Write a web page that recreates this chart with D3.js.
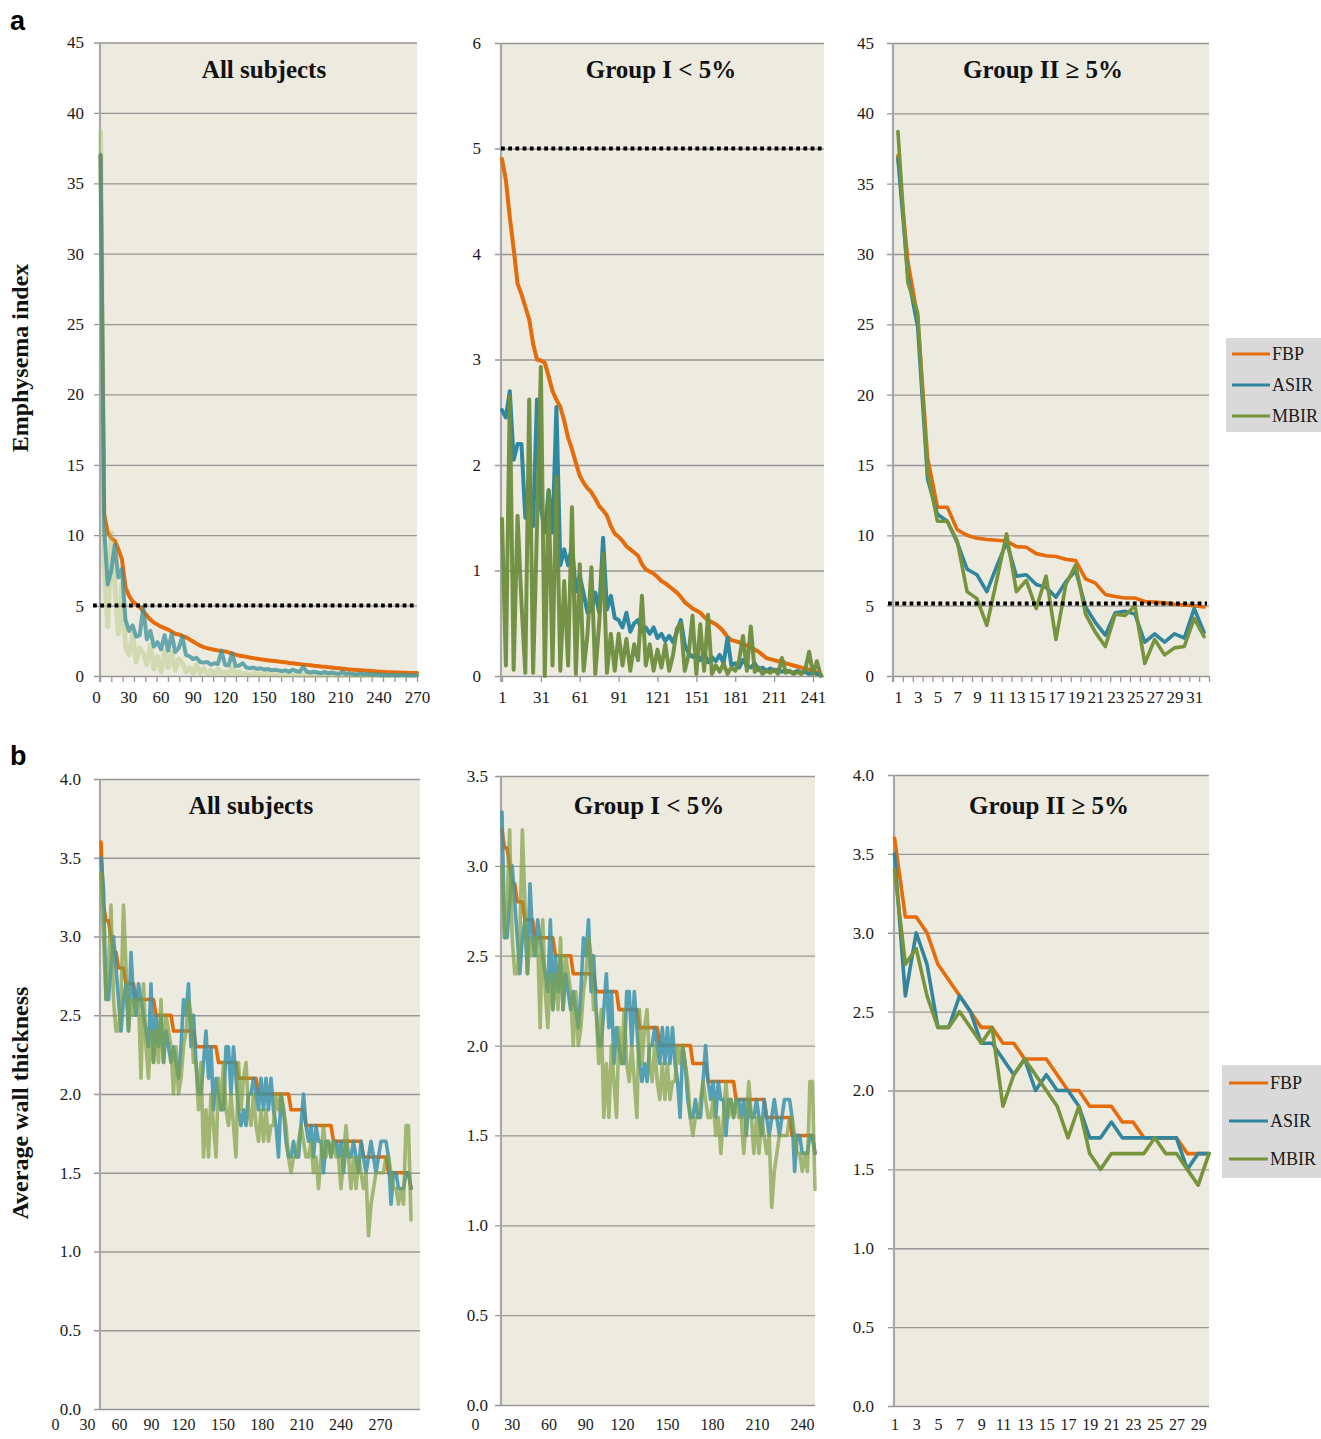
<!DOCTYPE html>
<html><head><meta charset="utf-8">
<script src="https://cdn.jsdelivr.net/npm/d3@7"></script>
<style>body{margin:0;background:#fff}</style>
</head><body>
<svg id="c" width="1321" height="1439"></svg>
<script>
// ---------- DATA ----------
const seriesNames = ["FBP", "ASIR", "MBIR"];

// (a) Emphysema index – All subjects (every 3rd subject, sorted by FBP)
const emphAllFBP = [37,11.5,10.2,9.8,9.6,9.0,8.3,6.3,5.7,5.3,
5.1,4.9,4.6,4.3,4.0,3.8,3.65,3.5,3.4,3.3,
3.15,3.0,2.95,2.85,2.75,2.6,2.45,2.3,2.15,2.05,
1.98,1.92,1.87,1.82,1.78,1.75,1.68,1.6,1.52,1.45,
1.41,1.36,1.31,1.27,1.23,1.19,1.15,1.12,1.09,1.06,
1.03,1.0,0.97,0.93,0.9,0.87,0.84,0.81,0.79,0.76,
0.73,0.71,0.68,0.66,0.63,0.6,0.57,0.55,0.52,0.49,
0.47,0.44,0.43,0.41,0.39,0.37,0.35,0.33,0.31,0.3,
0.28,0.27,0.26,0.25,0.24,0.23,0.23,0.22,0.22,0.21];
const emphAllASIR = [37,10.5,6.5,7.5,9.3,7.0,7.6,4.0,3.2,3.6,
2.8,2.9,4.9,2.6,3.2,2.1,2.4,1.9,2.9,1.8,
3.0,1.7,2.0,2.8,1.5,1.4,1.2,1.3,1.0,0.95,
1.0,0.8,0.9,0.85,1.8,0.8,0.75,1.6,0.7,0.75,
0.9,0.6,0.55,0.6,0.5,0.55,0.45,0.5,0.4,0.45,
0.4,0.35,0.4,0.3,0.45,0.35,0.3,0.65,0.3,0.25,
0.3,0.25,0.2,0.3,0.2,0.25,0.2,0.15,0.3,0.15,
0.2,0.15,0.1,0.2,0.1,0.15,0.1,0.1,0.15,0.05,
0.1,0.05,0.1,0.05,0.05,0.1,0.05,0.05,0.05,0.05];
const emphAllMBIR = [38.7,8.0,3.5,10.2,6.5,3.0,6.5,2.0,1.5,3.0,
1.0,2.0,1.6,0.8,2.2,0.5,1.4,0.3,1.8,0.6,
1.7,0.4,1.2,0.9,0.3,0.6,0.2,0.8,0.2,0.5,
0.15,0.4,0.1,0.5,0.2,0.3,0.1,0.6,0.1,0.3,
0.1,0.2,0.05,0.2,0.1,0.15,0.05,0.15,0.05,0.1,
0.05,0.12,0.03,0.1,0.05,0.08,0.02,0.1,0.04,0.06,
0.02,0.08,0.03,0.05,0.02,0.1,0.03,0.04,0.02,0.06,
0.02,0.03,0.05,0.02,0.04,0.02,0.03,0.05,0.02,0.03,
0.02,0.04,0.02,0.03,0.02,0.02,0.03,0.02,0.02,0.03];

// (a) Group I < 5% (subjects 1,4,7,...,247)
const emphG1FBP = [4.9,4.7,4.35,4.05,3.72,3.62,3.5,3.38,3.15,3.0,
2.99,2.97,2.84,2.7,2.62,2.55,2.42,2.26,2.15,2.02,
1.9,1.83,1.78,1.74,1.68,1.61,1.57,1.52,1.42,1.35,
1.32,1.28,1.23,1.2,1.17,1.14,1.06,1.01,0.99,0.97,
0.94,0.9,0.88,0.85,0.82,0.79,0.75,0.7,0.67,0.64,
0.62,0.6,0.56,0.53,0.51,0.49,0.46,0.42,0.37,0.34,
0.33,0.32,0.3,0.29,0.27,0.25,0.23,0.2,0.17,0.16,
0.15,0.14,0.14,0.12,0.11,0.1,0.09,0.08,0.07,0.06,
0.05,0.03,0.01];
const emphG1ASIR = [2.52,2.45,2.7,2.05,2.2,2.2,1.5,1.85,1.42,2.62,
1.6,1.36,1.76,1.36,2.55,1.05,1.2,1.05,1.23,0.8,
0.95,0.78,0.6,0.62,0.79,0.6,1.31,0.63,0.76,0.55,
0.53,0.46,0.6,0.42,0.5,0.53,0.42,0.46,0.4,0.46,
0.36,0.4,0.33,0.38,0.32,0.42,0.53,0.3,0.22,0.18,
0.2,0.15,0.22,0.13,0.18,0.14,0.2,0.12,0.36,0.1,
0.12,0.08,0.15,0.1,0.08,0.12,0.06,0.08,0.05,0.07,
0.05,0.06,0.04,0.05,0.04,0.03,0.05,0.03,0.04,0.02,
0.03,0.02,0.01];
const emphG1MBIR = [1.49,0.1,2.65,0.06,1.52,0.7,0.03,2.62,0.03,1.4,
2.93,0.0,1.76,0.1,1.89,0.05,0.9,0.1,1.6,0.02,
1.06,0.05,0.4,1.03,0.02,0.5,1.16,0.03,0.4,0.05,
0.4,0.1,0.35,0.05,0.3,0.15,0.76,0.1,0.3,0.05,
0.25,0.08,0.3,0.05,0.2,0.45,0.5,0.05,0.2,0.57,
0.02,0.49,0.05,0.58,0.02,0.1,0.04,0.12,0.02,0.08,
0.05,0.15,0.38,0.05,0.47,0.04,0.08,0.02,0.05,0.03,
0.06,0.02,0.17,0.03,0.05,0.02,0.04,0.02,0.06,0.23,
0.02,0.14,0.0];

// (a) Group II >= 5% (subjects 1..32)
const emphG2FBP = [37,29.5,25.5,15.5,12,12,10.4,10.0,9.8,9.7,
9.65,9.6,9.2,9.15,8.7,8.55,8.5,8.3,8.2,6.9,
6.6,5.8,5.65,5.55,5.55,5.3,5.25,5.2,5.1,5.05,5.0,4.9];
const emphG2ASIR = [36.8,28.5,24.8,14,11.5,11,9.5,7.6,7.2,6.0,
7.8,9.5,7.1,7.2,6.5,6.3,5.6,6.7,7.5,4.9,
3.8,2.9,4.5,4.6,4.4,2.4,3.0,2.4,3.0,2.7,4.8,3.1];
const emphG2MBIR = [38.7,28.0,25.8,14.5,11.0,11.0,9.6,6.0,5.5,3.6,
6.8,10.1,6.0,6.8,4.8,7.1,2.6,6.5,7.9,4.4,
3.1,2.1,4.4,4.3,5.0,0.9,2.6,1.5,2.0,2.1,4.1,2.8];

// (b) Average wall thickness – All subjects / Group I
const wallAllFBP = [3.6,3.2,3.1,3.1,3.0,2.9,2.9,2.8,2.8,2.8,2.7,2.7,2.7,2.7,
2.6,2.6,2.6,2.6,2.6,2.6,2.6,2.6,
2.5,2.5,2.5,2.5,2.5,2.5,2.5,
2.4,2.4,2.4,2.4,2.4,2.4,2.4,2.4,2.4,
2.3,2.3,2.3,2.3,2.3,2.3,2.3,2.3,2.3,
2.2,2.2,2.2,2.2,2.2,2.2,2.2,2.2,
2.1,2.1,2.1,2.1,2.1,2.1,2.1,2.1,
2.0,2.0,2.0,2.0,2.0,2.0,2.0,2.0,2.0,2.0,2.0,2.0,2.0,
1.9,1.9,1.9,1.9,1.9,1.9,
1.8,1.8,1.8,1.8,1.8,1.8,1.8,1.8,1.8,1.8,1.8,
1.7,1.7,1.7,1.7,1.7,1.7,1.7,1.7,1.7,1.7,1.7,1.7,
1.6,1.6,1.6,1.6,1.6,1.6,1.6,1.6,1.6,1.6,
1.5,1.5,1.5,1.5,1.5,1.5,1.5,1.5,1.5,
1.4];
const wallAllASIR = [3.5,3.3,2.6,2.6,2.8,3.0,2.8,2.6,2.4,2.6,
2.7,2.4,2.9,2.6,2.5,2.7,2.6,2.5,2.4,2.3,
2.7,2.2,2.5,2.3,2.5,2.2,2.4,2.3,2.2,2.3,
2.2,2.1,2.3,2.6,2.5,2.7,2.3,2.5,2.2,2.0,
2.0,2.2,2.4,2.1,2.3,1.9,2.1,2.0,1.9,1.9,
2.3,2.3,2.0,2.3,2.1,1.9,1.8,1.9,1.8,2.0,
2.0,2.1,2.0,1.9,2.1,1.9,2.1,1.9,2.1,1.9,
1.8,1.6,2.0,1.9,1.7,1.6,1.6,1.7,1.6,1.6,
1.8,2.0,1.8,1.7,1.8,1.6,1.8,1.7,1.7,1.5,
1.7,1.7,1.6,1.7,1.7,1.6,1.7,1.5,1.7,1.6,
1.6,1.7,1.6,1.5,1.7,1.6,1.5,1.6,1.7,1.6,
1.5,1.6,1.7,1.7,1.7,1.6,1.3,1.5,1.5,1.4,
1.4,1.4,1.5,1.5,1.4];
const wallAllMBIR = [3.4,3.0,2.6,2.8,3.2,2.6,2.4,2.4,2.6,3.2,
2.8,2.4,2.6,2.5,2.6,2.6,2.1,2.7,2.3,2.1,
2.4,2.2,2.4,2.2,2.6,2.2,2.5,2.4,2.3,2.0,
2.3,2.0,2.1,2.3,2.4,2.6,2.5,2.2,2.2,1.9,
2.2,1.6,1.9,1.6,2.0,1.8,1.6,2.1,1.9,2.2,
1.9,1.8,2.0,1.8,1.6,2.2,1.9,2.1,2.2,1.9,
1.8,2.0,1.8,1.7,1.9,1.7,1.9,1.7,1.8,1.8,
2.0,1.9,2.0,1.9,1.8,1.6,1.5,1.6,1.6,1.7,
1.8,1.7,1.6,1.6,1.7,1.5,1.6,1.4,1.6,1.8,
1.6,1.7,1.6,1.7,1.6,1.6,1.4,1.6,1.8,1.6,
1.4,1.6,1.4,1.6,1.5,1.4,1.5,1.1,1.3,1.4,
1.5,1.5,1.5,1.5,1.6,1.6,1.5,1.4,1.4,1.3,
1.4,1.3,1.8,1.8,1.2];

// (b) Group II >= 5% (subjects 1..30)
const wallG2FBP = [3.6,3.1,3.1,3.0,2.8,2.7,2.6,2.5,2.4,2.4,
2.3,2.3,2.2,2.2,2.2,2.1,2.0,2.0,1.9,1.9,
1.9,1.8,1.8,1.7,1.7,1.7,1.7,1.6,1.6,1.6];
const wallG2ASIR = [3.5,2.6,3.0,2.8,2.4,2.4,2.6,2.5,2.3,2.3,
2.2,2.1,2.2,2.0,2.1,2.0,2.0,1.9,1.7,1.7,
1.8,1.7,1.7,1.7,1.7,1.7,1.7,1.5,1.6,1.6];
const wallG2MBIR = [3.4,2.8,2.9,2.6,2.4,2.4,2.5,2.4,2.3,2.4,
1.9,2.1,2.2,2.1,2.0,1.9,1.7,1.9,1.6,1.5,
1.6,1.6,1.6,1.6,1.7,1.6,1.6,1.5,1.4,1.6];

const labelsAll = [0,30,60,90,120,150,180,210,240,270];
const labelsG1a = [1,31,61,91,121,151,181,211,241];
const labelsG1b = [0,30,60,90,120,150,180,210,240];
const labelsG2a = [1,3,5,7,9,11,13,15,17,19,21,23,25,27,29,31];
const labelsG2b = [1,3,5,7,9,11,13,15,17,19,21,23,25,27,29];

// ---------- DRAWING ----------
const SERIF = "'Liberation Serif','Times New Roman',serif";
const svg = d3.select("#c");
const COL = {FBP:"#e46c0a", ASIR:"#31859c", MBIR:"#77933c"};

function panel(cfg){
  const g = svg.append("g");
  const y = d3.scaleLinear().domain([0, cfg.yMax]).range([cfg.bottom, cfg.top]);
  const w = cfg.right - cfg.left;
  g.append("rect").attr("x", cfg.left).attr("y", cfg.top).attr("width", w)
    .attr("height", cfg.bottom - cfg.top).attr("fill", "#edeae0");
  const yt = d3.range(0, cfg.yMax + cfg.step/2, cfg.step);
  const ga = g.append("g").attr("transform", `translate(${cfg.left-6},0)`)
    .call(d3.axisLeft(y).tickValues(yt).tickSize(-(w+6)).tickPadding(cfg.pad).tickFormat(cfg.fmt));
  ga.select(".domain").remove();
  ga.selectAll("line").attr("stroke", "#979797").attr("stroke-width", 1.3);
  ga.selectAll("text").attr("font-family", SERIF).attr("font-size", 17).attr("fill", "#1a1a1a");
  g.append("line").attr("x1", cfg.left).attr("x2", cfg.left).attr("y1", cfg.top).attr("y2", cfg.bottom + (cfg.tickScale ? 6 : 0))
    .attr("stroke", "#a8a8a8").attr("stroke-width", 2.2);
  if (cfg.tickScale){
    const gt = g.append("g").attr("transform", `translate(0,${cfg.bottom})`)
      .call(d3.axisBottom(cfg.tickScale).tickValues(cfg.tickVals).tickSize(6).tickFormat(""));
    gt.select(".domain").attr("stroke", "#979797");
    gt.selectAll("line").attr("stroke", "#979797").attr("stroke-width", 1.3);
  }
  const gl = g.append("g").attr("transform", `translate(0,${cfg.bottom})`)
    .call(d3.axisBottom(cfg.labelScale).tickValues(cfg.labels).tickSize(0).tickPadding(cfg.xpad));
  gl.select(".domain").remove();
  gl.selectAll("text").attr("font-family", SERIF).attr("font-size", cfg.xfs || 17).attr("fill", "#1a1a1a");
  const thr = () => g.append("line").attr("x1", cfg.thrX0).attr("x2", cfg.thrX1)
      .attr("y1", y(cfg.thr)).attr("y2", y(cfg.thr))
      .attr("stroke", "#000").attr("stroke-width", 4).attr("stroke-dasharray", "3.8,3.4");
  if (cfg.thr !== undefined && !cfg.thrTop) thr();
  cfg.series.forEach(s => {
    const line = d3.line().x((d,i) => cfg.x(cfg.xOf(i))).y(d => y(d));
    g.append("path").datum(s.data).attr("d", line).attr("fill", "none")
      .attr("stroke", s.color).attr("stroke-width", s.width || 3.6).attr("stroke-opacity", s.op || 1)
      .attr("stroke-linejoin", "round").attr("stroke-linecap", "round");
  });
  if (cfg.thr !== undefined && cfg.thrTop) thr();
  g.append("text").attr("x", cfg.titleX).attr("y", cfg.titleY).attr("text-anchor", "middle")
    .attr("font-family", SERIF).attr("font-weight", "bold").attr("font-size", 25).attr("fill", "#111").text(cfg.title);
}

const fmtInt = d3.format("d"), fmt1 = d3.format(".1f");

// a1
panel({left:100, right:417, top:42.5, bottom:676, yMax:45, step:5, pad:10, fmt:fmtInt,
  x: d3.scaleLinear().domain([0, emphAllFBP.length-1]).range([100.6, 417]), xOf: i => i,
  tickScale: d3.scaleLinear().domain([0,280]).range([100,417]), tickVals: d3.range(0,281,10),
  labelScale: d3.scaleLinear().domain([0,120,270]).range([96,225,417]), labels: labelsAll, xpad:15,
  thr:5, thrX0:93, thrX1:417, thrTop:true,
  title:"All subjects", titleX:264, titleY:78,
  series:[{data:emphAllFBP, color:COL.FBP, width:4},
          {data:emphAllMBIR, color:"#a9c26e", op:0.4, width:5},
          {data:emphAllASIR, color:"#3a8f98", op:0.75, width:4}]});

// a2
const xa2 = d3.scaleLinear().domain([1,241]).range([502,813]);
panel({left:501, right:824, top:43, bottom:676, yMax:6, step:1, pad:14, fmt:fmtInt,
  x: xa2, xOf: i => 1 + 3*i,
  tickScale: xa2, tickVals: labelsG1a,
  labelScale: xa2, labels: labelsG1a, xpad:15,
  thr:5, thrX0:501, thrX1:824,
  title:"Group I < 5%", titleX:661, titleY:78,
  series:[{data:emphG1FBP, color:COL.FBP, width:4},
          {data:emphG1ASIR, color:"#2f88a2", width:4},
          {data:emphG1MBIR, color:"#6e8d3c", op:0.95, width:4}]});

// a3
const xa3 = d3.scaleLinear().domain([0.5,32.5]).range([893,1209]);
panel({left:893, right:1209, top:43, bottom:676, yMax:45, step:5, pad:13, fmt:fmtInt,
  x: xa3, xOf: i => i + 1,
  tickScale: xa3, tickVals: d3.range(0.5, 33, 1),
  labelScale: xa3, labels: labelsG2a, xpad:15,
  thr:5.15, thrX0:888, thrX1:1207, thrTop:true,
  title:"Group II \u2265 5%", titleX:1043, titleY:78,
  series:[{data:emphG2FBP, color:COL.FBP},
          {data:emphG2ASIR, color:COL.ASIR},
          {data:emphG2MBIR, color:COL.MBIR}]});

// b1
panel({left:100, right:420, top:779, bottom:1409, yMax:4, step:0.5, pad:13, fmt:fmt1,
  x: d3.scaleLinear().domain([0, wallAllFBP.length-1]).range([101,411]), xOf: i => i,
  labelScale: d3.scaleLinear().domain([0,120,270]).range([55,183,380]), labels: labelsAll, xpad:10, xfs:16,
  title:"All subjects", titleX:251, titleY:814,
  series:[{data:wallAllFBP, color:COL.FBP},
          {data:wallAllASIR, color:"#3a93ad", op:0.85},
          {data:wallAllMBIR, color:"#7fa043", op:0.7}]});

// b2 (Group I shares the same ordering after the first subject)
const g1FBP = wallAllFBP.slice(1), g1ASIR = wallAllASIR.slice(1), g1MBIR = wallAllMBIR.slice(1);
panel({left:501, right:815, top:776, bottom:1405, yMax:3.5, step:0.5, pad:7, fmt:fmt1,
  x: d3.scaleLinear().domain([0, g1FBP.length-1]).range([502,815]), xOf: i => i,
  labelScale: d3.scaleLinear().domain([0,120,240]).range([475,622,802]), labels: labelsG1b, xpad:14, xfs:16,
  title:"Group I < 5%", titleX:649, titleY:814,
  series:[{data:g1FBP, color:COL.FBP},
          {data:g1ASIR, color:"#3a93ad", op:0.85},
          {data:g1MBIR, color:"#7fa043", op:0.7}]});

// b3
const xb3 = d3.scaleLinear().domain([1,30]).range([894.5,1209]);
panel({left:894, right:1209, top:775, bottom:1406, yMax:4, step:0.5, pad:14, fmt:fmt1,
  x: xb3, xOf: i => i + 1,
  labelScale: xb3, labels: labelsG2b, xpad:13, xfs:16,
  title:"Group II \u2265 5%", titleX:1049, titleY:814,
  series:[{data:wallG2FBP, color:COL.FBP},
          {data:wallG2ASIR, color:COL.ASIR},
          {data:wallG2MBIR, color:COL.MBIR}]});

// legends
function legend(x, y, w, h, lx1, lx2, tx, ys){
  const g = svg.append("g");
  g.append("rect").attr("x", x).attr("y", y).attr("width", w).attr("height", h).attr("fill", "#d9d9d9");
  seriesNames.forEach((n, i) => {
    g.append("line").attr("x1", lx1).attr("x2", lx2).attr("y1", ys[i]).attr("y2", ys[i])
      .attr("stroke", COL[n]).attr("stroke-width", 3.2);
    g.append("text").attr("x", tx).attr("y", ys[i]).attr("dy", "0.35em").attr("font-family", SERIF)
      .attr("font-size", 18).attr("fill", "#1a1a1a").text(n);
  });
}
legend(1226, 338, 95, 94, 1232, 1270, 1272, [354, 385, 416]);
legend(1222, 1065, 99, 113, 1229, 1268, 1270, [1083, 1121, 1159]);

// axis titles
svg.append("text").attr("transform", "translate(28,358) rotate(-90)").attr("text-anchor", "middle")
  .attr("font-family", SERIF).attr("font-weight", "bold").attr("font-size", 24).attr("fill", "#111").text("Emphysema index");
svg.append("text").attr("transform", "translate(28,1103) rotate(-90)").attr("text-anchor", "middle")
  .attr("font-family", SERIF).attr("font-weight", "bold").attr("font-size", 24).attr("fill", "#111").text("Average wall thickness");

// panel letters
svg.append("text").attr("x", 10).attr("y", 30).attr("font-family", "'Liberation Sans',Arial,sans-serif")
  .attr("font-weight", "bold").attr("font-size", 27).attr("fill", "#000").text("a");
svg.append("text").attr("x", 10).attr("y", 765).attr("font-family", "'Liberation Sans',Arial,sans-serif")
  .attr("font-weight", "bold").attr("font-size", 27).attr("fill", "#000").text("b");
</script>
</body></html>
